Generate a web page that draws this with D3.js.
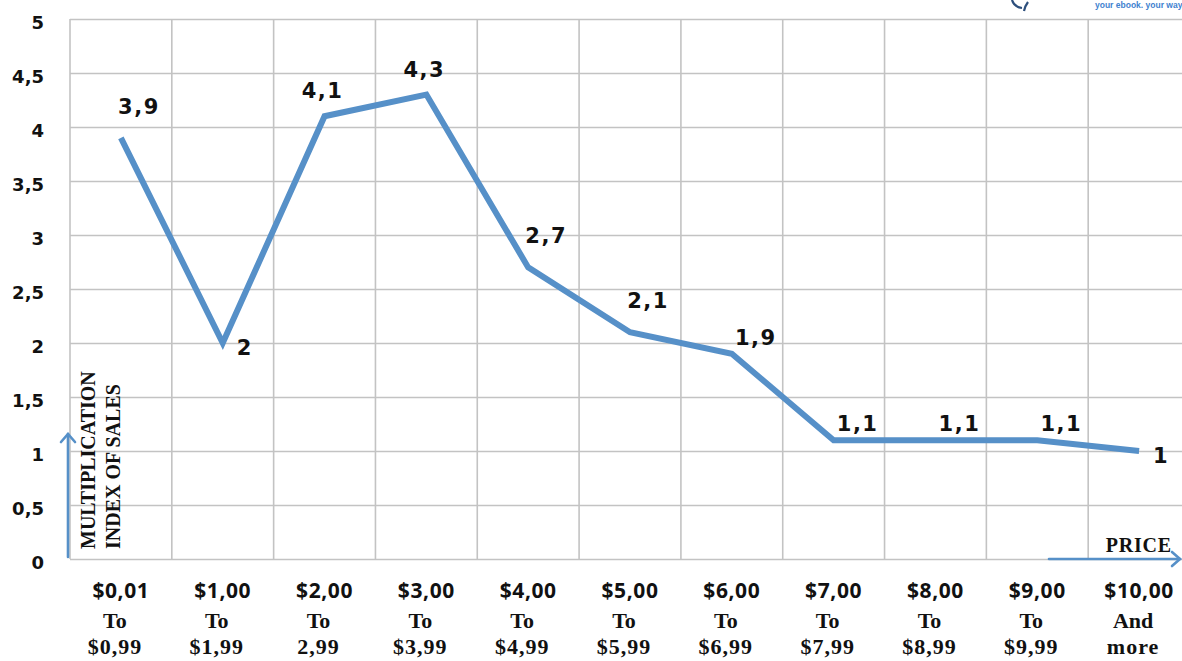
<!DOCTYPE html>
<html>
<head>
<meta charset="utf-8">
<script src="https://cdn.jsdelivr.net/npm/d3@7/dist/d3.min.js"></script>
<style>
  html, body { margin: 0; padding: 0; background: #fff; }
  svg { display: block; }
</style>
</head>
<body>
<svg id="chart" width="1182" height="661"></svg>
<script>
// Price bands (three text lines per category) and the sales multiplication index
const priceFrom = ["$0,01", "$1,00", "$2,00", "$3,00", "$4,00", "$5,00", "$6,00", "$7,00", "$8,00", "$9,00", "$10,00"];
const priceJoin = ["To", "To", "To", "To", "To", "To", "To", "To", "To", "To", "And"];
const priceTo   = ["$0,99", "$1,99", "2,99", "$3,99", "$4,99", "$5,99", "$6,99", "$7,99", "$8,99", "$9,99", "more"];
const salesIndex = [3.9, 2, 4.1, 4.3, 2.7, 2.1, 1.9, 1.1, 1.1, 1.1, 1];
const yTicks = [0, 0.5, 1, 1.5, 2, 2.5, 3, 3.5, 4, 4.5, 5];
// where each value label sits relative to its point
const labelPlacement = ["upRight", "right", "above", "above", "upRight", "upRight", "nearRight", "nearRight", "nearRight", "nearRight", "right"];

const W = 1182, H = 661;
const plot = { left: 70, right: 1190, top: 19, bottom: 559 };

const svg = d3.select("#chart");

const locale = d3.formatLocale({ decimal: ",", thousands: ".", grouping: [3], currency: ["$", ""] });
const fmt = locale.format("~g");

const x = d3.scaleBand()
  .domain(d3.range(salesIndex.length))
  .range([plot.left, plot.right])
  .padding(0);

const y = d3.scaleLinear().domain([0, 5]).range([plot.bottom, plot.top]);

const gridColor = "#c3c3c3";
const lineColor = "#5690c8";

// horizontal gridlines
svg.append("g")
  .attr("transform", `translate(${plot.left},0)`)
  .call(d3.axisLeft(y).tickValues(yTicks).tickSize(-(W - plot.left)).tickFormat(""))
  .call(g => g.select(".domain").remove())
  .call(g => g.selectAll("line").attr("stroke", gridColor).attr("stroke-width", 1.6));

// vertical gridlines at category boundaries
const bounds = x.domain().map(i => x(i)).concat([plot.right]);
svg.append("g").selectAll("line")
  .data(bounds)
  .join("line")
  .attr("x1", d => d).attr("x2", d => d)
  .attr("y1", plot.top).attr("y2", plot.bottom)
  .attr("stroke", gridColor).attr("stroke-width", 1.6);

// y tick labels
svg.append("g")
  .attr("transform", `translate(${plot.left},0)`)
  .call(d3.axisLeft(y).tickValues(yTicks).tickSize(0).tickPadding(26).tickFormat(fmt))
  .call(g => g.select(".domain").remove())
  .call(g => g.selectAll("text")
    .attr("fill", "#111")
    .attr("dy", "0.55em")
    .style("font-family", "'DejaVu Sans', sans-serif")
    .style("font-weight", "bold")
    .style("font-size", "18px"));

// x category labels
const xLab = svg.append("g").selectAll("g")
  .data(x.domain())
  .join("g")
  .attr("transform", i => `translate(${x(i) + x.bandwidth() / 2},0)`);

xLab.append("text")
  .attr("y", 598)
  .attr("text-anchor", "middle")
  .attr("fill", "#111")
  .style("font-family", "'Open Sans', sans-serif")
  .style("font-weight", "bold")
  .style("font-size", "21px")
  .style("letter-spacing", "0.6px")
  .text(i => priceFrom[i]);

xLab.append("text")
  .attr("x", -6).attr("y", 628)
  .attr("text-anchor", "middle")
  .attr("fill", "#111")
  .style("font-family", "'Liberation Serif', serif")
  .style("font-weight", "bold")
  .style("font-size", "22px")
  .text(i => priceJoin[i]);

xLab.append("text")
  .attr("x", -6).attr("y", 654)
  .attr("text-anchor", "middle")
  .attr("fill", "#111")
  .style("font-family", "'Liberation Serif', serif")
  .style("font-weight", "bold")
  .style("font-size", "22px")
  .style("letter-spacing", "1px")
  .text(i => priceTo[i]);

// axis title (rotated, two lines)
const yTitle = svg.append("text")
  .attr("transform", "translate(95,549) rotate(-90)")
  .attr("fill", "#111")
  .style("font-family", "'Liberation Serif', serif")
  .style("font-weight", "bold")
  .style("font-size", "20px");
yTitle.append("tspan").attr("x", 0).attr("y", 0).text("MULTIPLICATION");
yTitle.append("tspan").attr("x", 0).attr("y", 25).text("INDEX OF SALES");

svg.append("text")
  .attr("x", 1172).attr("y", 552)
  .attr("text-anchor", "end")
  .attr("fill", "#111")
  .style("font-family", "'Liberation Serif', serif")
  .style("font-weight", "bold")
  .style("font-size", "20px")
  .style("letter-spacing", "0.8px")
  .text("PRICE");

// blue axis arrows
const arrows = svg.append("g").attr("stroke", lineColor).attr("fill", "none")
  .attr("stroke-width", 2.6).attr("stroke-linecap", "round");
arrows.append("line").attr("x1", 68).attr("y1", 557).attr("x2", 68).attr("y2", 434);
arrows.append("path").attr("d", "M61,442 L68,434 L75,442");
arrows.append("line").attr("x1", 1049).attr("y1", 559).attr("x2", 1180).attr("y2", 559);
arrows.append("path").attr("d", "M1172,552 L1180,559 L1172,566");

// the series line
const line = d3.line()
  .x((d, i) => x(i) + x.bandwidth() / 2)
  .y(d => y(d));

svg.append("path")
  .datum(salesIndex)
  .attr("d", line)
  .attr("fill", "none")
  .attr("stroke", lineColor)
  .attr("stroke-width", 6)
  .attr("stroke-linejoin", "miter")
  .attr("stroke-linecap", "butt");

// value labels
const offsets = {
  above:     { dx: -2, dy: -18, anchor: "middle" },
  upRight:   { dx: 18, dy: -24, anchor: "middle" },
  nearRight: { dx: 24, dy: -9,  anchor: "middle" },
  right:     { dx: 14, dy: 12,  anchor: "start" }
};

svg.append("g").selectAll("text")
  .data(salesIndex)
  .join("text")
  .attr("x", (d, i) => x(i) + x.bandwidth() / 2 + offsets[labelPlacement[i]].dx)
  .attr("y", (d, i) => y(d) + offsets[labelPlacement[i]].dy)
  .attr("text-anchor", (d, i) => offsets[labelPlacement[i]].anchor)
  .attr("fill", "#111")
  .style("font-family", "'DejaVu Sans', sans-serif")
  .style("font-weight", "bold")
  .style("font-size", "21px")
  .style("letter-spacing", "1.5px")
  .text(d => fmt(d));

// publisher mark, top right corner
const mark = svg.append("g");
mark.append("path")
  .attr("d", "M1012,0 Q1014,7 1022,8 M1028,2 Q1025,6 1024,11")
  .attr("fill", "none").attr("stroke", "#2d4f7c").attr("stroke-width", 2.2);
mark.append("text")
  .attr("x", 1095).attr("y", 8)
  .attr("fill", "#3f82cf")
  .style("font-family", "'Liberation Sans', sans-serif")
  .style("font-weight", "bold")
  .style("font-size", "8.5px")
  .text("your ebook. your way");
</script>
</body>
</html>
